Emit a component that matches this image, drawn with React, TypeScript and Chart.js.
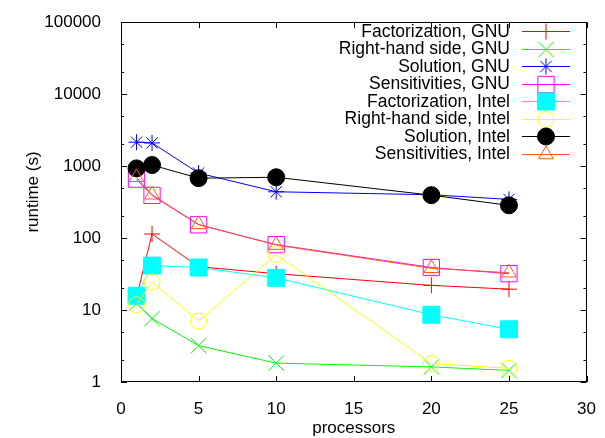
import React, { useEffect, useRef } from 'react';
import { Chart, registerables } from 'chart.js';
import { drawPoint } from 'chart.js/helpers';

Chart.register(...registerables);

const processors = [1, 2, 5, 10, 20, 25];
const factorizationGNU = [15, 114, 40, 32, 22, 19.5];
const rhsGNU = [12.4, 7.6, 3.2, 1.83, 1.62, 1.45];
const solutionGNU = [2150, 2100, 800, 440, 400, 345];
const sensitivitiesGNU = [660, 392, 153, 81, 39, 32];
const factorizationIntel = [15.8, 41.5, 39, 28, 8.6, 5.4];
const rhsIntel = [11.8, 24.5, 7.0, 59, 1.8, 1.55];
const solutionIntel = [930, 1035, 680, 700, 395, 285];
const sensitivitiesIntel = [700, 400, 155, 80, 38, 33];

const seriesLabels = [
  'Factorization, GNU',
  'Right-hand side, GNU',
  'Solution, GNU',
  'Sensitivities, GNU',
  'Factorization, Intel',
  'Right-hand side, Intel',
  'Solution, Intel',
  'Sensitivities, Intel',
];
const seriesValues = [
  factorizationGNU,
  rhsGNU,
  solutionGNU,
  sensitivitiesGNU,
  factorizationIntel,
  rhsIntel,
  solutionIntel,
  sensitivitiesIntel,
];
const seriesColors = ['#ff0000', '#00ff00', '#0000ff', '#ff00ff', '#00ffff', '#ffff00', '#000000', '#ff5a1e'];
const seriesStyles = ['cross', 'crossRot', 'star', 'rect', 'rect', 'circle', 'circle', 'triangle'];
const seriesFilled = [false, false, false, false, true, false, true, false];
const seriesRadius = [8, 11, 8, 11.5, 12, 8, 8.5, 8.5];

const xTickValues = [0, 5, 10, 15, 20, 25, 30];
const yMajorTicks = [1, 10, 100, 1000, 10000, 100000];
const yMinorFactors = [2, 5];

const FONT = 'Liberation Sans, Arial, sans-serif';

const decorPlugin = {
  id: 'decor',
  afterDraw(chart: any) {
    const ctx = chart.ctx;
    const { left, right, top, bottom } = chart.chartArea;
    const xs = chart.scales.x;
    const ys = chart.scales.y;
    ctx.save();
    ctx.strokeStyle = '#000';
    ctx.lineWidth = 1;
    // border box
    ctx.strokeRect(Math.round(left) + 0.5, Math.round(top) + 0.5, Math.round(right - left) - 1, Math.round(bottom - top) - 1);
    // x ticks
    ctx.beginPath();
    for (const v of xTickValues) {
      const px = Math.round(xs.getPixelForValue(v)) + 0.5;
      ctx.moveTo(px, bottom);
      ctx.lineTo(px, bottom - 6);
      ctx.moveTo(px, top);
      ctx.lineTo(px, top + 6);
    }
    // y ticks
    for (const v of yMajorTicks) {
      const py = Math.round(ys.getPixelForValue(v)) + 0.5;
      ctx.moveTo(left, py);
      ctx.lineTo(left + 6, py);
      ctx.moveTo(right, py);
      ctx.lineTo(right - 6, py);
      if (v < 100000) {
        for (const f of yMinorFactors) {
          const pm = Math.round(ys.getPixelForValue(v * f)) + 0.5;
          ctx.moveTo(left, pm);
          ctx.lineTo(left + 3, pm);
          ctx.moveTo(right, pm);
          ctx.lineTo(right - 3, pm);
        }
      }
    }
    ctx.stroke();

    // y title
    ctx.save();
    ctx.translate(33, 192);
    ctx.rotate(-Math.PI / 2);
    ctx.font = `17px ${FONT}`;
    ctx.fillStyle = '#000';
    ctx.textAlign = 'center';
    ctx.textBaseline = 'middle';
    ctx.fillText('runtime (s)', 0, 0);
    ctx.restore();

    // legend
    const textRight = 510;
    const lineL = 522;
    const lineR = 570;
    const markX = 546;
    const y0 = 31;
    const dy = 17.5;
    ctx.font = `17.5px ${FONT}`;
    ctx.textAlign = 'right';
    ctx.textBaseline = 'middle';
    seriesLabels.forEach((lab, i) => {
      const y = y0 + i * dy;
      ctx.fillStyle = '#000';
      ctx.fillText(lab, textRight, y + 1);
      ctx.strokeStyle = seriesColors[i];
      ctx.lineWidth = 1;
      ctx.beginPath();
      ctx.moveTo(lineL, Math.round(y) + 0.5);
      ctx.lineTo(lineR, Math.round(y) + 0.5);
      ctx.stroke();
      ctx.fillStyle = seriesFilled[i] ? seriesColors[i] : 'rgba(0,0,0,0)';
      ctx.strokeStyle = seriesColors[i];
      drawPoint(ctx, { pointStyle: seriesStyles[i], radius: seriesRadius[i], rotation: 0, borderWidth: 1 } as any, markX, Math.round(y) + 0.5);
    });
    ctx.restore();
  },
};

export default function App() {
  const ref = useRef<HTMLCanvasElement>(null);
  useEffect(() => {
    if (!ref.current) return;
    const datasets = seriesLabels.map((label, i) => ({
      label,
      data: processors.map((x, j) => ({ x, y: seriesValues[i][j] })),
      borderColor: seriesColors[i],
      backgroundColor: seriesFilled[i] ? seriesColors[i] : 'rgba(0,0,0,0)',
      pointBackgroundColor: seriesFilled[i] ? seriesColors[i] : 'rgba(0,0,0,0)',
      pointBorderColor: seriesColors[i],
      pointStyle: seriesStyles[i],
      pointRadius: seriesRadius[i],
      pointBorderWidth: 1,
      borderWidth: 1,
      showLine: true,
      fill: false,
      tension: 0,
      order: seriesLabels.length - i,
    }));
    const chart = new Chart(ref.current, {
      type: 'line',
      data: { datasets },
      plugins: [decorPlugin],
      options: {
        animation: false,
        responsive: false,
        maintainAspectRatio: false,
        layout: { padding: { top: 15, right: 14, left: 0, bottom: 0 } },
        plugins: { legend: { display: false }, tooltip: { enabled: false } },
        scales: {
          x: {
            type: 'linear',
            min: 0,
            max: 30,
            grid: { display: false },
            border: { display: false },
            afterBuildTicks: (s: any) => {
              s.ticks = xTickValues.map((v) => ({ value: v }));
            },
            ticks: { color: '#000', font: { family: FONT, size: 17 }, padding: 9, maxRotation: 0, autoSkip: false },
            title: { display: true, text: 'processors', color: '#000', font: { family: FONT, size: 17 }, padding: { top: 0, bottom: -1 } },
            afterFit: (s: any) => {
              s.height = 56;
            },
          },
          y: {
            type: 'logarithmic',
            min: 1,
            max: 100000,
            grid: { display: false },
            border: { display: false },
            afterBuildTicks: (s: any) => {
              s.ticks = yMajorTicks.map((v) => ({ value: v }));
            },
            ticks: {
              color: '#000',
              font: { family: FONT, size: 17 },
              padding: 12,
              autoSkip: false,
              callback: (v: any) => String(v),
            },
            afterFit: (s: any) => {
              s.width = 121;
            },
          },
        },
      },
    });
    return () => chart.destroy();
  }, []);
  return (
    <div style={{ position: 'fixed', left: 0, top: 0, width: 605, height: 438, background: '#fff' }}>
      <canvas ref={ref} width={605} height={438} style={{ width: 605, height: 438, display: 'block' }} />
    </div>
  );
}
